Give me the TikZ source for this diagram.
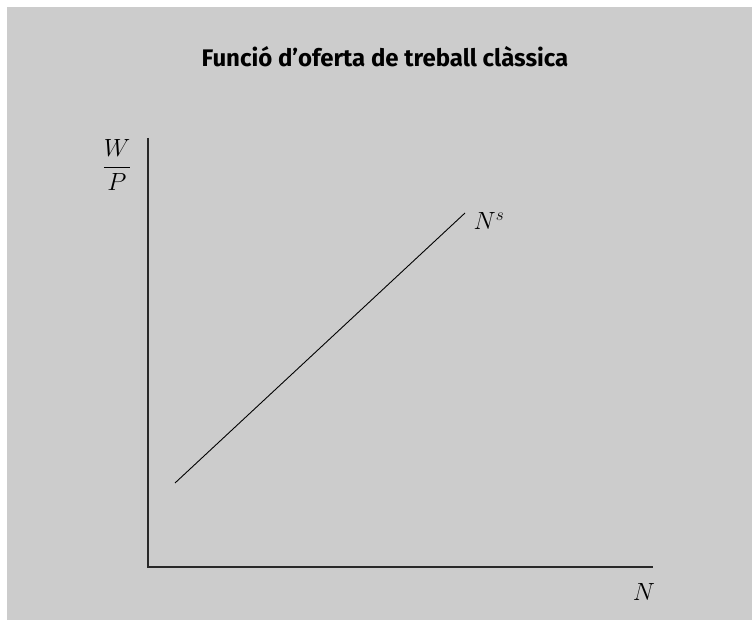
\documentclass[tikz,border=0pt]{standalone}
\usepackage{amsmath}
\usepackage{fontspec}
\setmainfont{Fira Sans}
\usepackage{tikz}
\definecolor{fonsgris}{RGB}{204,204,204}
\definecolor{eix}{RGB}{40,40,40}

\begin{document}
\begin{tikzpicture}[x=1pt,y=-1pt,
  etiq/.style={font=\fontsize{24}{28}\selectfont, inner sep=0pt}]
\useasboundingbox (0,0) rectangle (752,620);
\fill[fonsgris] (7,7) rectangle (752,620);
\node[font=\fontsize{24}{28}\selectfont\bfseries] (titol) at (385,57) {Funció d’oferta de treball clàssica};
% eixos
\coordinate (O) at (148,567);
\coordinate (Y) at (148,138);
\coordinate (X) at (653,567);
\draw[line width=1.2pt, eix] (Y) -- (O) -- (X);
% corba d'oferta
\coordinate (A) at (175,483);
\coordinate (B) at (465,213);
\draw[line width=0.9pt] (A) -- (B);
\node[etiq] (Ns) at (489,221) {$N^s$};
\node[etiq] (WP) at (117,165) {$\dfrac{W}{P}$};
\node[etiq] (N) at (644,592) {$N$};
\end{tikzpicture}
\end{document}
